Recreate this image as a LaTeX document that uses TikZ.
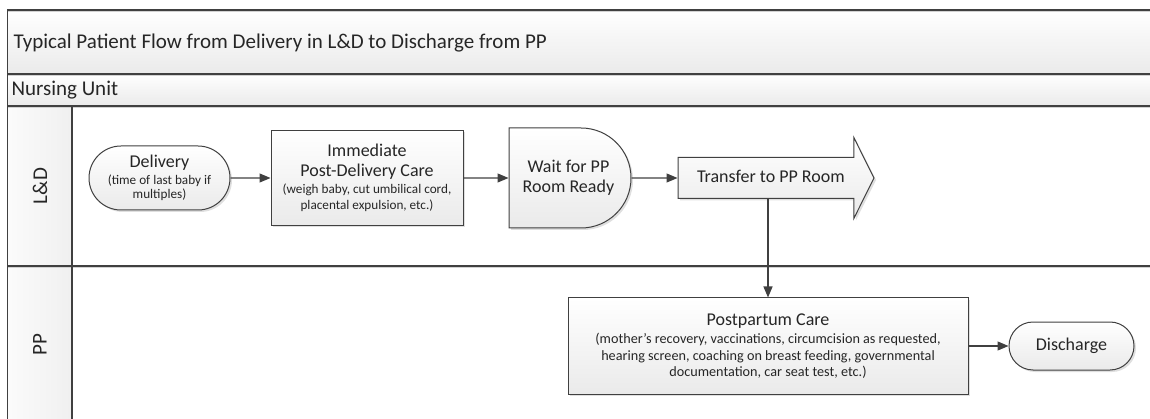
\documentclass[tikz,border=0pt]{standalone}
\usepackage{fontspec}
\setmainfont{Carlito}
\usetikzlibrary{arrows.meta,positioning,shapes.misc,shapes.arrows,shadows}

\definecolor{lineclr}{HTML}{404040}
\definecolor{shadeclr}{HTML}{EAEAEA}
\newcommand{\smtxt}[1]{{\fontsize{13.2}{15}\selectfont #1}}
\newcommand{\notetxt}[1]{{\fontsize{14.2}{16}\selectfont #1}}

\begin{document}
\begin{tikzpicture}[x=1pt,y=-1pt,>={Triangle[length=11pt,width=9pt]},
  node distance=40pt,
  box/.style={draw=lineclr,line width=1pt,top color=white,bottom color=shadeclr,
    drop shadow={shadow xshift=2pt,shadow yshift=-2pt,opacity=.25},
    font=\fontsize{18}{19.5}\selectfont,align=center,inner sep=2pt,text=black!85},
  proc/.style={box,rectangle},
  term/.style={box,rounded rectangle},
  waitbox/.style={box,rounded rectangle,rounded rectangle west arc=none},
  xferbox/.style={box,single arrow,single arrow head extend=20pt,
    single arrow tip angle=127,single arrow head indent=0pt,
    minimum height=196pt,text height=13pt,text depth=4pt,inner ysep=11.5pt},
  flow/.style={->,draw=lineclr,line width=1.2pt},
  lane/.style={draw=lineclr,line width=1.2pt},
  laneshade/.style={draw=gray!35,line width=1pt},
  label/.style={font=\fontsize{21}{24}\selectfont,text=black!85}
  ]

  \useasboundingbox (0,0) rectangle (1150,419);

  % pool header and lane columns
  \fill[top color=white,bottom color=shadeclr] (7.5,10) rectangle (1150,74);
  \fill[top color=white,bottom color=shadeclr] (7.5,74) rectangle (1150,106);
  \fill[left color=gray!3,right color=gray!12] (7.5,106) rectangle (72,425);

  \draw[laneshade] (7.5,12) -- (1150,12);
  \draw[laneshade] (7.5,76) -- (1150,76);
  \draw[laneshade] (7.5,108) -- (1150,108);
  \draw[laneshade] (7.5,268) -- (1150,268);

  \draw[lane] (1150,10) -- (7.5,10) -- (7.5,425);
  \draw[lane] (7.5,74) -- (1150,74);
  \draw[lane] (7.5,106) -- (1150,106);
  \draw[lane] (7.5,266) -- (1150,266);
  \draw[lane] (72,106) -- (72,425);

  \node[label,anchor=west] (title) at (10,43) {Typical Patient Flow from Delivery in L\&D to Discharge from PP};
  \node[label,anchor=west] (unit) at (8,90) {Nursing Unit};
  \node[label,rotate=90] (ldlane) at (40,186) {L\&D};
  \node[label,rotate=90] (pplane) at (40,345) {PP};

  % L&D lane
  \node[term,minimum width=145pt,minimum height=64pt] (deliv) at (159.5,178)
    {Delivery\\[-3pt]\smtxt{(time of last baby if}\\[-5pt]\smtxt{multiples)}};
  \node[proc,minimum width=192pt,minimum height=95pt,inner xsep=0pt] (immed) [right=40pt of deliv]
    {Immediate\\Post-Delivery Care\\[-2pt]\smtxt{(weigh baby, cut umbilical cord,}\\[-4pt]\smtxt{placental expulsion, etc.)}};
  \node[waitbox,minimum width=126pt,minimum height=100pt] (wait) [right=45pt of immed]
    {Wait for PP\\Room Ready};
  \node[xferbox] (xfer) [right=46pt of wait] {Transfer to PP Room};

  % PP lane
  \node[proc,minimum width=400pt,minimum height=96pt] (ppcare) at (768,346)
    {Postpartum Care\\[-1pt]\notetxt{(mother’s recovery, vaccinations, circumcision as requested,}\\[-3pt]\notetxt{hearing screen, coaching on breast feeding, governmental}\\[-3pt]\notetxt{documentation, car seat test, etc.)}};
  \node[term,minimum width=129pt,minimum height=48pt] (disch) [right=40pt of ppcare] {Discharge};

  \draw[flow] (deliv) -- (immed);
  \draw[flow] (immed) -- (wait);
  \draw[flow] (wait) -- (xfer);
  \draw[flow] (ppcare.north |- xfer.south) -- (ppcare.north);
  \draw[flow] (ppcare) -- (disch);
\end{tikzpicture}
\end{document}
